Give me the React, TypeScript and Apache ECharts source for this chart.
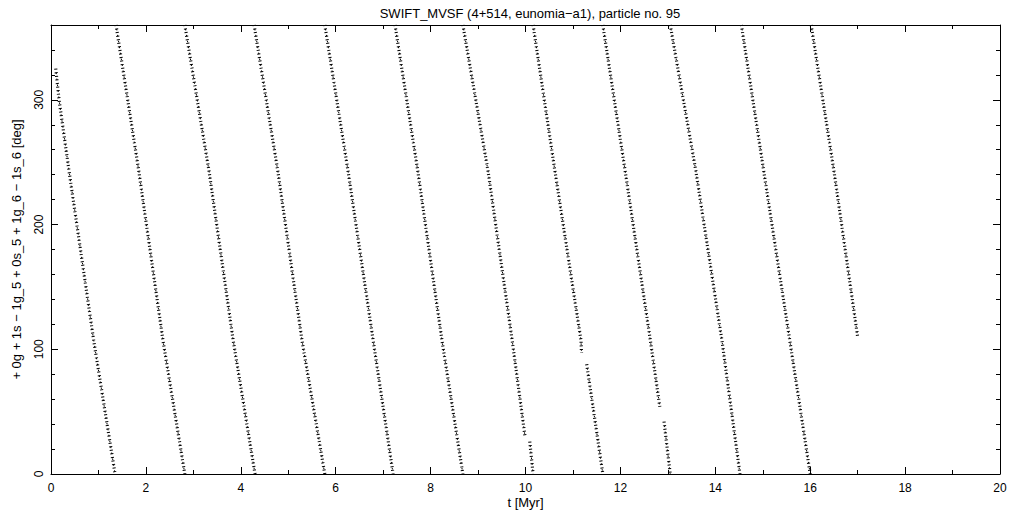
import React, { useEffect, useRef } from "react";
import * as echarts from "echarts";

// Resonant angle bands: [t (Myr), angle (deg)]
const band1 = [[0.10, 325], [0.17, 300], [0.38, 243], [0.90, 107], [1.35, 0]];
const band2 = [[1.37, 360], [1.85, 243], [2.36, 107], [2.82, 0]];
const band3 = [[2.82, 360], [3.33, 243], [3.84, 107], [4.30, 0]];
const band4 = [[4.28, 360], [4.78, 243], [5.29, 107], [5.77, 0]];
const band5 = [[5.77, 360], [6.26, 243], [6.79, 107], [7.21, 0]];
const band6 = [[7.25, 360], [7.73, 243], [8.24, 107], [8.68, 0]];
const band7a = [[8.68, 360], [9.21, 243], [9.72, 107], [9.99, 30]];
const band7b = [[10.09, 26], [10.16, 0]];
const band8a = [[10.16, 360], [10.62, 243], [11.17, 107], [11.18, 97]];
const band8b = [[11.29, 88], [11.63, 0]];
const band9a = [[11.63, 360], [12.10, 243], [12.62, 110], [12.83, 54]];
const band9b = [[12.92, 42], [13.05, 0]];
const band10 = [[13.05, 360], [13.59, 243], [14.14, 107], [14.52, 0]];
const band11 = [[14.55, 360], [15.02, 243], [15.57, 107], [16.0, 0]];
const band12 = [[16.02, 360], [16.50, 243], [17.0, 110]];

const bands = [band1, band2, band3, band4, band5, band6, band7a, band7b, band8a, band8b, band9a, band9b, band10, band11, band12];

const xTicks = [0, 2, 4, 6, 8, 10, 12, 14, 16, 18, 20];
const yTicks = [0, 100, 200, 300];

const titleText = "SWIFT_MVSF (4+514, eunomia\u2212a1), particle no. 95";
const xName = "t [Myr]";
const yName = "+ 0g + 1s \u2212 1g_5 + 0s_5 + 1g_6 \u2212 1s_6 [deg]";

const FONT = "Liberation Sans";

export default function App() {
  const ref = useRef<HTMLDivElement>(null);
  useEffect(() => {
    if (!ref.current) return;
    const chart = echarts.init(ref.current, null, { renderer: "svg" });
    const tickStyle = { show: true, inside: true, length: 7, lineStyle: { color: "#000", width: 1 } };
    const minorStyle = { show: true, splitNumber: 2, length: 4, lineStyle: { color: "#000", width: 1 } };
    const minorY = { show: true, splitNumber: 5, length: 4, lineStyle: { color: "#000", width: 1 } };
    const axisLine = { show: true, onZero: false, lineStyle: { color: "#000", width: 1 } };
    const bandSeries: any[] = [];
    bands.forEach((b) => {
      bandSeries.push({
        type: "line", data: b, showSymbol: false, symbol: "none", silent: true,
        lineStyle: { color: "#000", width: 3.2, type: [1, 2.6] },
      });
      bandSeries.push({
        type: "line", data: b, showSymbol: false, symbol: "none", silent: true,
        lineStyle: { color: "#000", width: 1, type: [1.5, 4.5], dashOffset: 2 },
      });
    });
    chart.setOption({
      animation: false,
      backgroundColor: "#fff",
      title: {
        text: titleText,
        left: 525,
        top: 2,
        textAlign: "center",
        textStyle: { fontFamily: FONT, fontSize: 13, fontWeight: "normal", color: "#000" },
      },
      grid: { left: 51, right: 21, top: 25, bottom: 37, containLabel: false, outerBoundsMode: "none" },
      xAxis: [
        {
          type: "value", min: 0, max: 20, interval: 2, position: "bottom",
          axisLine, axisTick: tickStyle, minorTick: minorStyle,
          splitLine: { show: false },
          axisLabel: {
            fontFamily: FONT, fontSize: 12, lineHeight: 12, color: "#000", margin: 8,
            formatter: (v: number) => (xTicks.includes(v) ? String(v) : ""),
          },
          name: xName, nameLocation: "middle", nameGap: 21, nameMoveOverlap: false,
          nameTextStyle: { fontFamily: FONT, fontSize: 13, lineHeight: 14, color: "#000" },
        },
        {
          type: "value", min: 0, max: 20, interval: 2, position: "top",
          axisLine, axisTick: tickStyle, minorTick: minorStyle,
          splitLine: { show: false }, axisLabel: { show: false },
        },
      ],
      yAxis: [
        {
          type: "value", min: 0, max: 360, interval: 100, position: "left",
          axisLine, axisTick: tickStyle, minorTick: minorY,
          splitLine: { show: false },
          axisLabel: {
            fontFamily: FONT, fontSize: 12, color: "#000", rotate: 90, margin: 6,
            formatter: (v: number) => (yTicks.includes(v) ? String(v) : ""),
          },
          name: yName, nameLocation: "middle", nameGap: 28, nameRotate: 90,
          nameTextStyle: { fontFamily: FONT, fontSize: 13, color: "#000" },
        },
        {
          type: "value", min: 0, max: 360, interval: 100, position: "right",
          axisLine, axisTick: tickStyle, minorTick: minorY,
          splitLine: { show: false }, axisLabel: { show: false },
        },
      ],
      series: bandSeries,
    });
    return () => chart.dispose();
  }, []);
  return (
    <div
      ref={ref}
      style={{ position: "absolute", left: 0, top: 0, width: 1021, height: 511 }}
    />
  );
}
